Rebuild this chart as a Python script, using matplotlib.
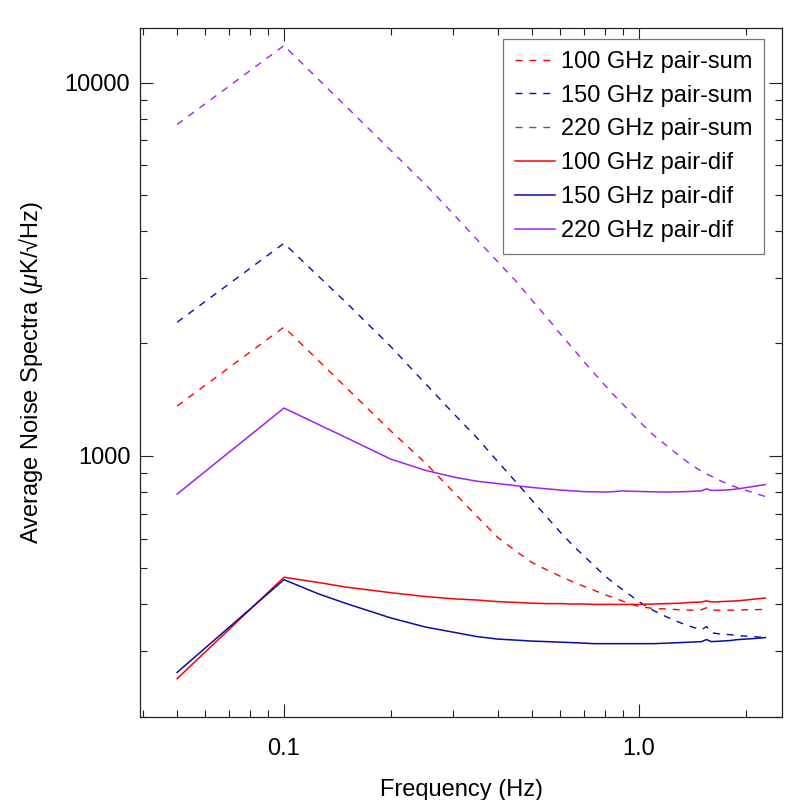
import numpy as np
import matplotlib
matplotlib.use('Agg')
import matplotlib.pyplot as plt
from matplotlib.ticker import FixedLocator, FixedFormatter, LogLocator, NullFormatter

plt.rcParams['font.family'] = ['Liberation Sans', 'DejaVu Sans']
plt.rcParams['mathtext.fontset'] = 'custom'
plt.rcParams['mathtext.rm'] = 'Liberation Sans'
plt.rcParams['mathtext.it'] = 'Liberation Sans:italic'
plt.rcParams['font.size'] = 17

# frequency bins (Hz) and average noise (uK/sqrt(Hz))
freq = [0.05, 0.1, 0.125, 0.15, 0.2, 0.25, 0.3, 0.35, 0.4, 0.45, 0.5, 0.55, 0.6, 0.65,
        0.7, 0.75, 0.8, 0.85, 0.9, 0.95, 1.0, 1.1, 1.2, 1.3, 1.4, 1.5, 1.55, 1.6,
        1.7, 1.8, 1.9, 2.0, 2.1, 2.27]

sum_100 = [1360, 2213, 1801, 1521, 1166, 958, 801, 688, 605, 556, 518, 495, 476, 460,
           447, 436, 425, 417, 408, 401, 395, 390, 389, 387, 386, 387, 392, 386,
           386, 386, 386, 387, 387, 388]
sum_150 = [2280, 3710, 3030, 2570, 1962, 1563, 1300, 1117, 966, 852, 760, 686, 625, 577,
           539, 507, 478, 456, 438, 422, 407, 385, 370, 358, 349, 342, 349, 336,
           333, 332, 330, 329, 328, 326]
sum_220 = [7720, 12560, 10200, 8610, 6580, 5340, 4445, 3795, 3312, 2940, 2610, 2350, 2124, 1945,
           1788, 1660, 1549, 1455, 1377, 1305, 1239, 1136, 1063, 1000, 948, 910, 895, 882,
           857, 836, 822, 809, 797, 778]
dif_100 = [253, 473, 458, 445, 430, 420, 414, 411, 407, 405, 403, 402, 402, 401,
           401, 400, 400, 400, 400, 400, 400, 401, 402, 403, 405, 406, 409, 406,
           407, 408, 409, 411, 413, 416]
dif_150 = [263, 466, 427, 402, 368, 348, 337, 328, 323, 321, 319, 318, 317, 316,
           315, 314, 314, 314, 314, 314, 314, 314, 315, 316, 317, 318, 322, 318,
           319, 320, 322, 323, 324, 326]
dif_220 = [790, 1343, 1214, 1118, 980, 915, 878, 855, 843, 832, 823, 816, 810, 806,
           802, 801, 800, 802, 806, 804, 803, 801, 800, 801, 803, 806, 816, 808,
           809, 811, 816, 822, 828, 838]

red = '#ff0000'
blue = '#0a0aaa'
purple = '#a020f0'
dash = (0, (5, 5))

fig = plt.figure(figsize=(8, 8), dpi=100)
ax = fig.add_axes([0.175, 0.104, 0.8025, 0.861])

ax.plot(freq, sum_100, color=red, lw=1.0, ls=dash, label='100 GHz pair-sum')
ax.plot(freq, sum_150, color=blue, lw=1.0, ls=dash, label='150 GHz pair-sum')
ax.plot(freq, sum_220, color=purple, lw=1.0, ls=dash, label='220 GHz pair-sum')
ax.plot(freq, dif_100, color=red, lw=1.1, label='100 GHz pair-dif')
ax.plot(freq, dif_150, color=blue, lw=1.1, label='150 GHz pair-dif')
ax.plot(freq, dif_220, color=purple, lw=1.1, label='220 GHz pair-dif')

ax.set_xscale('log')
ax.set_yscale('log')
ax.set_xlim(0.0393, 2.53)
ax.set_ylim(200, 14000)

ax.xaxis.set_major_locator(FixedLocator([0.1, 1.0]))
ax.xaxis.set_major_formatter(FixedFormatter(['0.1', '1.0']))
ax.xaxis.set_minor_locator(LogLocator(base=10, subs=np.arange(2, 10)))
ax.xaxis.set_minor_formatter(NullFormatter())
ax.yaxis.set_major_locator(FixedLocator([1000, 10000]))
ax.yaxis.set_major_formatter(FixedFormatter(['1000', '10000']))
ax.yaxis.set_minor_locator(LogLocator(base=10, subs=np.arange(2, 10)))
ax.yaxis.set_minor_formatter(NullFormatter())

ax.tick_params(which='both', direction='in', top=True, right=True, width=0.8, color='#222222')
ax.tick_params(which='major', length=9.5)
ax.tick_params(which='minor', length=5)
ax.tick_params(axis='x', which='major', pad=15)
ax.tick_params(axis='y', which='major', pad=7)
for s in ax.spines.values():
    s.set_linewidth(0.9)
    s.set_color('#222222')

ax.set_xlabel('Frequency (Hz)')
ax.set_ylabel('Average Noise Spectra ($\\mu$K/√Hz)')
ax.xaxis.set_label_coords(0.5, -0.09)
ax.yaxis.set_label_coords(-0.148, 0.5)

leg = ax.legend(loc='upper right', bbox_to_anchor=(0.972, 0.984), borderaxespad=0,
                fancybox=False, framealpha=1, edgecolor='#777777',
                handlelength=1.7, handletextpad=0.25, labelspacing=0.5,
                borderpad=0.5, fontsize=17)
leg.get_frame().set_linewidth(0.9)

plt.savefig('out.png', dpi=100)
